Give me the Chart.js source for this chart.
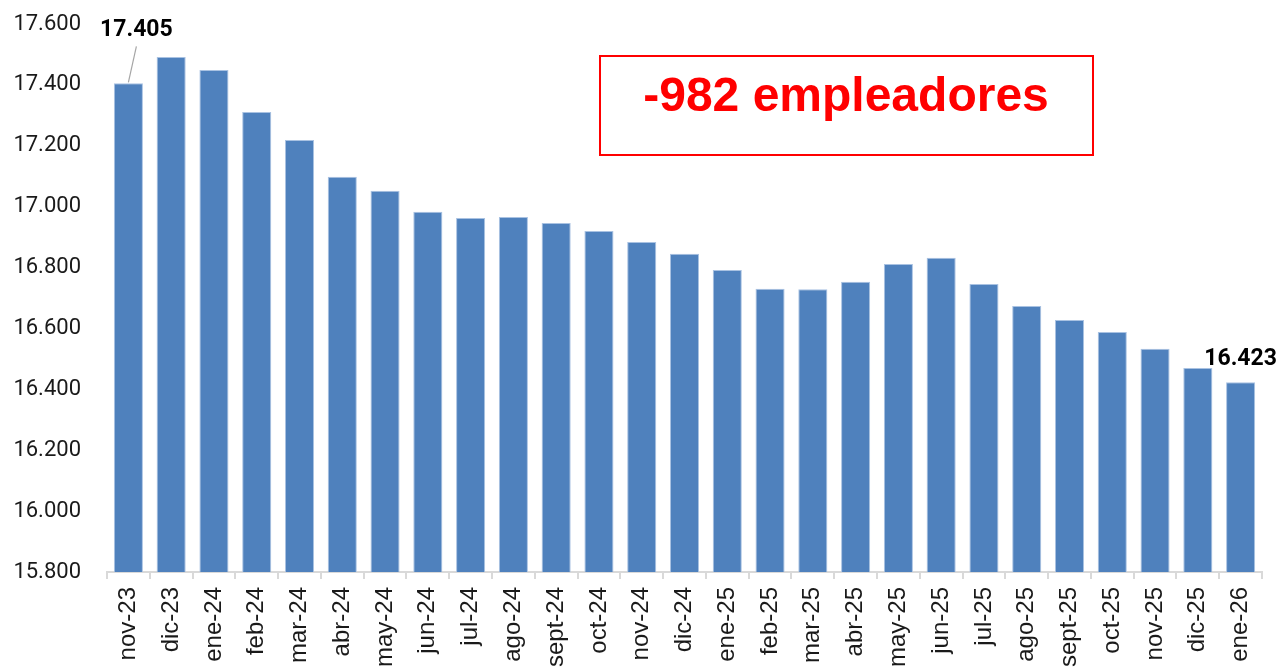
<!DOCTYPE html>
<html><head><meta charset="utf-8">
<script src="https://cdn.jsdelivr.net/npm/chart.js@4/dist/chart.umd.min.js"></script>
<style>html,body{margin:0;padding:0;background:#fff;}#wrap{width:1283px;height:668px;position:relative}</style>
</head><body><div id="wrap"><canvas id="c" width="1283" height="668"></canvas></div>
<script>
const categories = ["nov-23","dic-23","ene-24","feb-24","mar-24","abr-24","may-24","jun-24","jul-24","ago-24","sept-24","oct-24","nov-24","dic-24","ene-25","feb-25","mar-25","abr-25","may-25","jun-25","jul-25","ago-25","sept-25","oct-25","nov-25","dic-25","ene-26"];
const empleadores = [17405,17492,17449,17311,17219,17098,17052,16983,16963,16966,16946,16920,16884,16845,16792,16730,16729,16753,16812,16832,16746,16674,16628,16588,16533,16470,16423];
const yMin = 15800, yMax = 17600, yStep = 200;
const labeledIdx = [0, 26];
const boxText = "-982 empleadores";

const fmt = v => (v/1000).toFixed(3);

const labelPlugin = {
  id: 'labels',
  afterDatasetsDraw(chart) {
    const ctx = chart.ctx;
    const meta = chart.getDatasetMeta(0);
    ctx.save();
    ctx.font = 'bold 23px Roboto';
    ctx.fillStyle = '#000';
    ctx.textAlign = 'center';
    ctx.textBaseline = 'alphabetic';
    const b0 = meta.data[labeledIdx[0]];
    ctx.fillText(fmt(empleadores[labeledIdx[0]]), b0.x + 8, b0.y - 47);
    ctx.strokeStyle = '#a6a6a6';
    ctx.lineWidth = 1.2;
    ctx.beginPath();
    ctx.moveTo(b0.x, b0.y - 1);
    ctx.lineTo(b0.x + 8, b0.y - 37);
    ctx.stroke();
    const b1 = meta.data[labeledIdx[1]];
    ctx.fillText(fmt(empleadores[labeledIdx[1]]), b1.x, b1.y - 17);
    ctx.strokeStyle = '#ff0000';
    ctx.lineWidth = 2;
    ctx.strokeRect(600, 56, 493, 99);
    ctx.fillStyle = '#ff0000';
    ctx.font = 'bold 48px "Liberation Sans", Arial, sans-serif';
    ctx.textBaseline = 'middle';
    ctx.fillText(boxText, 846, 98);
    ctx.restore();
  }
};

new Chart(document.getElementById('c'), {
  type: 'bar',
  data: {
    labels: categories,
    datasets: [{
      data: empleadores,
      backgroundColor: '#4F81BD',
      borderColor: '#a9c2e2',
      borderWidth: 1,
      categoryPercentage: 1,
      barPercentage: 0.68
    }]
  },
  options: {
    responsive: false,
    animation: false,
    devicePixelRatio: 1,
    layout: { padding: { top: 24, right: 21, left: 0, bottom: 0 } },
    plugins: { legend: { display: false }, tooltip: { enabled: false } },
    scales: {
      x: {
        offset: true,
        grid: { display: true, drawOnChartArea: false, drawTicks: true, tickLength: 7, color: '#d9d9d9', offset: true, lineWidth: 2 },
        border: { display: true, color: '#d9d9d9', width: 2 },
        ticks: { maxRotation: 90, minRotation: 90, autoSkip: false, color: '#1a1a1a', font: { family: '"Liberation Sans", Arial', size: 24 }, padding: 8 },
        afterFit(s) { s.height = 96; s.paddingLeft = 0; s.paddingRight = 0; s.paddingTop = 0; s.paddingBottom = 0; }
      },
      y: {
        min: yMin, max: yMax,
        grid: { display: false },
        border: { display: false },
        ticks: { stepSize: yStep, color: '#1a1a1a', font: { family: 'Roboto', size: 22 }, padding: 18, callback: v => fmt(v) },
        afterFit(s) { s.width = 107; s.paddingTop = 0; s.paddingBottom = 0; s.paddingLeft = 0; s.paddingRight = 0; }
      }
    }
  },
  plugins: [labelPlugin]
});
</script></body></html>
